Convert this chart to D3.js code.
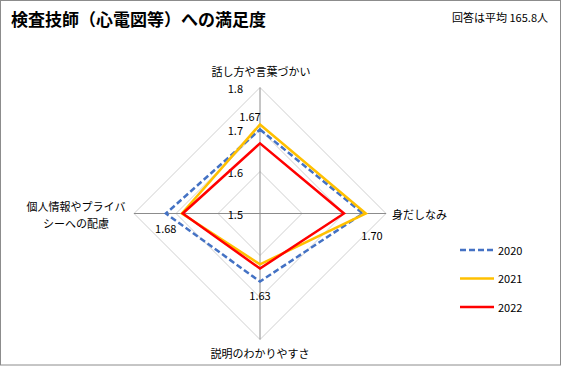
<!DOCTYPE html>
<html>
<head>
<meta charset="utf-8">
<script src="https://cdn.jsdelivr.net/npm/d3@7"></script>
<style>
  body { margin: 0; background: #fff; }
  text { font-family: "Noto Sans CJK JP", "Noto Sans", sans-serif; fill: #000; }
</style>
</head>
<body>
<div id="chart"></div>
<script>
// categories go clockwise from the top
var categories = ["話し方や言葉づかい", "身だしなみ", "説明のわかりやすさ", "個人情報やプライバシーへの配慮"];
var years = ["2020", "2021", "2022"];
var values2020 = [1.70, 1.745, 1.662, 1.724];
var values2021 = [1.712, 1.752, 1.621, 1.686];
var values2022 = [1.667, 1.70, 1.631, 1.684];
var dataLabels = ["1.67", "1.70", "1.63", "1.68"];
var tickValues = [1.5, 1.6, 1.7, 1.8];

(function() {
  var width = 562, height = 366;
  var cx = 260, cy = 213.5, radius = 126;

  var svg = d3.select("#chart")
    .append("svg")
    .attr("width", width)
    .attr("height", height);

  svg.append("rect")
    .attr("x", 0.5).attr("y", 0.5)
    .attr("width", width - 2).attr("height", height - 1.5)
    .attr("fill", "#fff")
    .attr("stroke", "#8c8c8c");

  svg.append("text")
    .attr("x", 11).attr("y", 26)
    .attr("font-size", 17)
    .attr("font-weight", "bold")
    .text("検査技師（心電図等）への満足度");

  svg.append("text")
    .attr("x", 548).attr("y", 22)
    .attr("font-size", 11)
    .style("text-anchor", "end")
    .text("回答は平均 165.8人");

  var rScale = d3.scaleLinear().domain([1.5, 1.8]).range([0, radius]);
  function ang(i) { return i * 2 * Math.PI / categories.length; }
  function px(i, v) { return cx + rScale(v) * Math.sin(ang(i)); }
  function py(i, v) { return cy - rScale(v) * Math.cos(ang(i)); }

  var g = svg.append("g");

  // rings
  tickValues.slice(1).forEach(function(t) {
    var pts = categories.map(function(c, i) { return [px(i, t), py(i, t)]; });
    g.append("polygon")
      .attr("points", pts.map(function(p) { return p.join(","); }).join(" "))
      .attr("fill", "none")
      .attr("stroke", "#d0d0d0")
      .attr("stroke-width", 1);
  });

  // spokes
  categories.forEach(function(c, i) {
    g.append("line")
      .attr("x1", cx).attr("y1", cy)
      .attr("x2", px(i, 1.8)).attr("y2", py(i, 1.8))
      .attr("stroke", "#8c8c8c")
      .attr("stroke-width", 1);
  });

  // tick labels
  g.selectAll(".tick-label")
    .data(tickValues)
    .enter().append("text")
    .attr("class", "tick-label")
    .attr("x", cx - 17)
    .attr("y", function(d) { return cy - rScale(d) + 5; })
    .attr("font-size", 11)
    .style("text-anchor", "end")
    .text(function(d) { return d.toFixed(1); });

  var series = [
    { name: years[0], values: values2020, color: "#4472C4", dash: "6,3" },
    { name: years[1], values: values2021, color: "#FFC000", dash: null },
    { name: years[2], values: values2022, color: "#FF0000", dash: null }
  ];

  var line = d3.line()
    .x(function(d, i) { return px(i, d); })
    .y(function(d, i) { return py(i, d); })
    .curve(d3.curveLinearClosed);

  series.forEach(function(s) {
    svg.append("path")
      .datum(s.values)
      .attr("d", line)
      .attr("fill", "none")
      .attr("stroke", s.color)
      .attr("stroke-width", 2.5)
      .attr("stroke-dasharray", s.dash);
  });

  // data labels for 2022
  var labelOffsets = [[-10, -22], [28, 26], [0, 31], [-17, 19]];
  svg.selectAll(".data-label")
    .data(values2022)
    .enter().append("text")
    .attr("class", "data-label")
    .attr("x", function(d, i) { return px(i, d) + labelOffsets[i][0]; })
    .attr("y", function(d, i) { return py(i, d) + labelOffsets[i][1]; })
    .attr("font-size", 11)
    .style("text-anchor", "middle")
    .text(function(d, i) { return dataLabels[i]; });

  // category labels
  svg.append("text")
    .attr("x", cx + 1).attr("y", py(0, 1.8) - 12)
    .attr("font-size", 11)
    .style("text-anchor", "middle")
    .text(categories[0]);

  svg.append("text")
    .attr("x", px(1, 1.8) + 6).attr("y", cy + 5)
    .attr("font-size", 11)
    .style("text-anchor", "start")
    .text(categories[1]);

  svg.append("text")
    .attr("x", cx).attr("y", py(2, 1.8) + 18)
    .attr("font-size", 11)
    .style("text-anchor", "middle")
    .text(categories[2]);

  var leftLabel = svg.append("text")
    .attr("x", 76).attr("y", cy - 3)
    .attr("font-size", 11)
    .style("text-anchor", "middle");
  leftLabel.append("tspan").attr("x", 76).attr("dy", 0).text("個人情報やプライバ");
  leftLabel.append("tspan").attr("x", 76).attr("dy", 17).text("シーへの配慮");

  // legend
  var legend = svg.selectAll(".legend")
    .data(series)
    .enter().append("g")
    .attr("class", "legend")
    .attr("transform", function(d, i) { return "translate(460," + (250 + i * 28.5) + ")"; });

  legend.append("line")
    .attr("x1", 0).attr("x2", 34)
    .attr("y1", 0).attr("y2", 0)
    .attr("stroke", function(d) { return d.color; })
    .attr("stroke-width", 2.5)
    .attr("stroke-dasharray", function(d) { return d.dash; });

  legend.append("text")
    .attr("x", 38).attr("y", 4.5)
    .attr("font-size", 11)
    .text(function(d) { return d.name; });
})();
</script>
</body>
</html>
